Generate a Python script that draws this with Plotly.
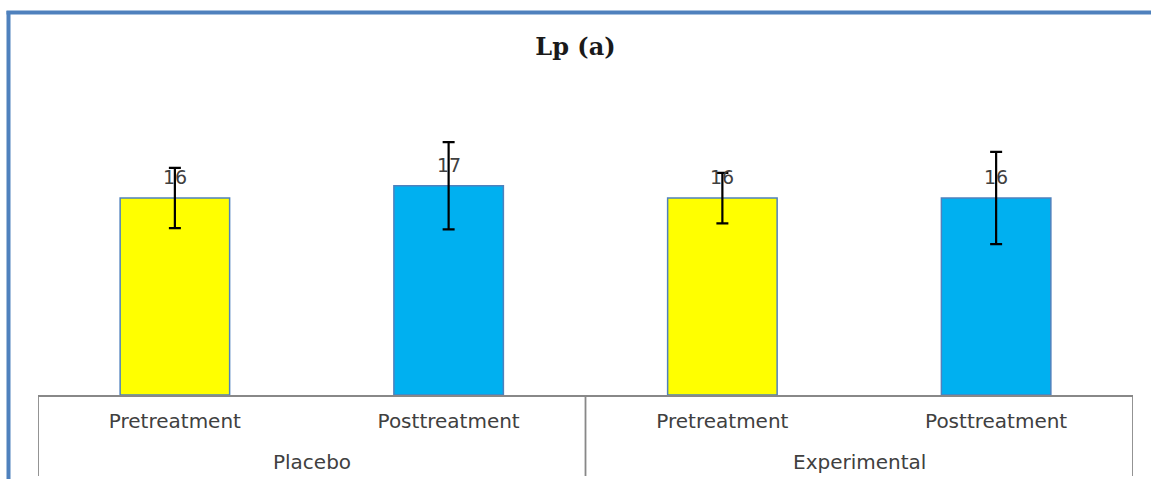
import plotly.graph_objects as go

groups = ["Placebo", "Experimental"]
phases = ["Pretreatment", "Posttreatment", "Pretreatment", "Posttreatment"]
bar_group = [0, 0, 1, 1]
values = [16.0, 17.0, 16.0, 16.0]
errors = [2.45, 3.55, 2.05, 3.75]
labels = ["16", "17", "16", "16"]
colors = ["#FFFF00", "#00B0F0", "#FFFF00", "#00B0F0"]

W, H = 1151, 479
ml, mr, mt, mb = 38, 18, 80, 84
px_per_unit = 12.31
ymax = (H - mt - mb) / px_per_unit
pw = W - ml - mr
ph = H - mt - mb

def px2x(p):
    return (p - ml) / pw

def py2y(p):
    return (H - mb - p) / ph

xs = list(range(len(values)))

fig = go.Figure()
fig.add_trace(go.Bar(
    x=xs,
    y=values,
    width=0.4,
    marker=dict(color=colors, line=dict(color="#4F81BD", width=1.5)),
    error_y=dict(type="data", array=errors, visible=True, color="black", thickness=2.2, width=6),
    showlegend=False,
    hoverinfo="skip",
))

LABEL_FONT = dict(family="DejaVu Sans, sans-serif", size=20, color="#404040")

for i, (v, t) in enumerate(zip(values, labels)):
    fig.add_annotation(x=i, y=v, text=t, showarrow=False, yanchor="bottom", yshift=8,
                       font=dict(family="DejaVu Sans, sans-serif", size=19, color="#404040"))

# group labels and dividers
for g, name in enumerate(groups):
    members = [i for i, bg in enumerate(bar_group) if bg == g]
    center = (members[0] + members[-1]) / 2
    fig.add_annotation(x=center, xref="x", y=py2y(461.5), yref="paper", text=name, showarrow=False,
                       yanchor="middle", font=LABEL_FONT)
boundaries = [-0.5] + [i + 0.5 for i in range(len(bar_group) - 1) if bar_group[i] != bar_group[i + 1]] + [len(bar_group) - 0.5]
for b in boundaries:
    fig.add_shape(type="line", xref="x", yref="paper", x0=b, x1=b, y0=0, y1=py2y(476),
                  line=dict(color="#888888", width=1.8))

# outer chart frame (left and top edges visible)
fig.add_shape(type="line", xref="paper", yref="paper", x0=px2x(8.5), x1=px2x(8.5), y0=py2y(11), y1=py2y(490),
              line=dict(color="#4F81BD", width=4))
fig.add_shape(type="line", xref="paper", yref="paper", x0=px2x(6.5), x1=px2x(1160), y0=py2y(12.5), y1=py2y(12.5),
              line=dict(color="#4F81BD", width=4))

fig.update_layout(
    width=W, height=H,
    margin=dict(l=ml, r=mr, t=mt, b=mb),
    paper_bgcolor="white", plot_bgcolor="white",
    title=dict(text="<b>Lp (a)</b>", x=0.5, xanchor="center", y=1 - 47 / H, yanchor="middle",
               font=dict(family="DejaVu Serif, serif", size=24, color="#1a1a1a")),
    xaxis=dict(showline=True, linecolor="#888888", linewidth=1.8,
               tickmode="array", tickvals=xs, ticktext=phases, ticks="",
               ticklabelstandoff=7,
               tickfont=LABEL_FONT,
               range=[-0.5, len(values) - 0.5], showgrid=False, zeroline=False),
    yaxis=dict(visible=False, range=[0, ymax], showgrid=False, zeroline=False),
)

fig.write_html("out.html", config={"displayModeBar": False},
               post_script="document.body.style.margin='0px';")
